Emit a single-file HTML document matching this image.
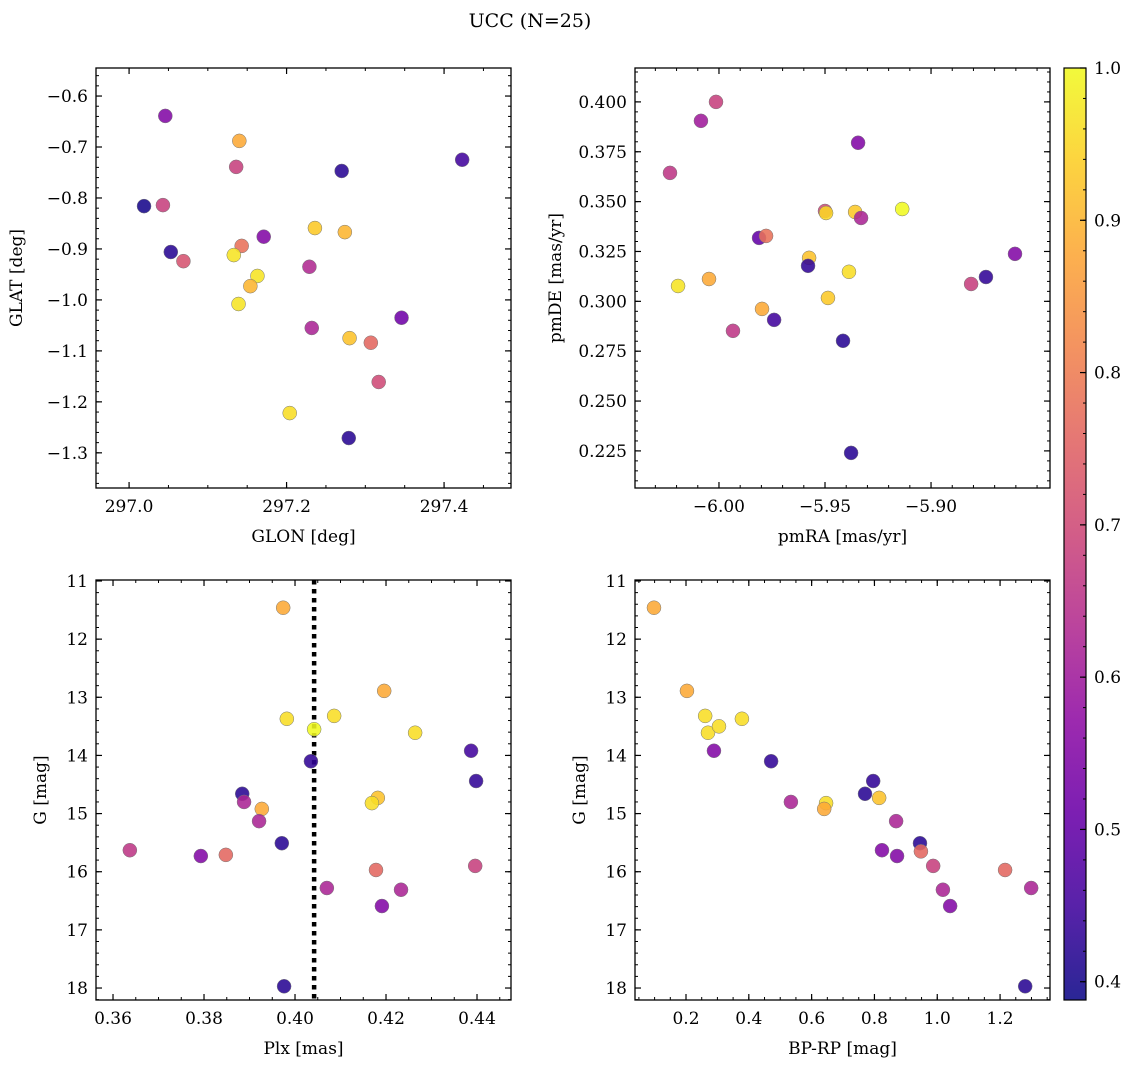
<!DOCTYPE html>
<html><head><meta charset="utf-8"><style>
body{margin:0;background:#fff}
svg text{font-family:"DejaVu Serif","Liberation Serif",serif;fill:#000}
</style></head><body>
<svg id="chart" width="1136" height="1067" viewBox="0 0 1136 1067" xmlns="http://www.w3.org/2000/svg">
<text x="530" y="27" font-size="19" text-anchor="middle">UCC (N=25)</text>
</svg>
<script>
// Panel 1: GLON / GLAT
const p1x=[297.046,297.140,297.423,297.136,297.270,297.019,297.043,297.236,297.274,297.171,297.143,297.053,297.069,297.133,297.229,297.163,297.154,297.139,297.346,297.232,297.280,297.307,297.317,297.204,297.279];
const p1y=[-0.639,-0.688,-0.725,-0.739,-0.747,-0.816,-0.814,-0.859,-0.867,-0.876,-0.894,-0.906,-0.924,-0.912,-0.935,-0.953,-0.973,-1.008,-1.035,-1.055,-1.075,-1.084,-1.161,-1.222,-1.271];
const p1c=[0.55,0.88,0.45,0.68,0.42,0.40,0.68,0.93,0.90,0.55,0.78,0.42,0.72,0.97,0.63,0.97,0.90,0.97,0.52,0.62,0.92,0.76,0.70,0.96,0.42];
// Panel 2: pmRA / pmDE
const p2x=[-6.0014,-6.0085,-5.9344,-6.0231,-5.9500,-5.9495,-5.9358,-5.9330,-5.9136,-5.9811,-5.9778,-5.9575,-5.9580,-5.9387,-5.8604,-6.0047,-6.0193,-5.8741,-5.8811,-5.9486,-5.9797,-5.9740,-5.9934,-5.9415,-5.9377];
const p2y=[0.4000,0.3905,0.3795,0.3644,0.3453,0.3443,0.3448,0.3418,0.3463,0.3318,0.3328,0.3218,0.3178,0.3148,0.3238,0.3112,0.3077,0.3122,0.3087,0.3017,0.2962,0.2907,0.2852,0.2802,0.2240];
const p2c=[0.68,0.60,0.55,0.66,0.70,0.95,0.93,0.62,1.00,0.50,0.78,0.92,0.43,0.96,0.55,0.88,0.97,0.43,0.68,0.93,0.88,0.45,0.66,0.42,0.42];
// Panel 3: Plx / G
const p3x=[0.3974,0.4196,0.4086,0.3982,0.4042,0.4264,0.4387,0.4035,0.4398,0.3884,0.4182,0.4169,0.3888,0.3927,0.3921,0.3971,0.3637,0.3848,0.3793,0.4396,0.4178,0.4070,0.4233,0.4191,0.3976];
const p3y=[11.46,12.89,13.32,13.37,13.55,13.61,13.92,14.10,14.44,14.66,14.73,14.82,14.80,14.92,15.13,15.51,15.63,15.71,15.73,15.90,15.97,16.28,16.31,16.59,17.97];
const p3c=[0.88,0.88,0.96,0.96,1.00,0.96,0.45,0.43,0.43,0.42,0.92,0.96,0.62,0.88,0.62,0.42,0.66,0.76,0.55,0.68,0.76,0.62,0.62,0.55,0.42];
const plxLine=0.4042;
// Panel 4: BP-RP / G
const p4x=[0.098,0.203,0.261,0.270,0.305,0.378,0.289,0.471,0.796,0.770,0.815,0.646,0.640,0.534,0.869,0.945,0.948,0.824,0.872,0.987,1.216,1.299,1.018,1.041,1.280];
const p4y=[11.46,12.89,13.32,13.61,13.50,13.37,13.92,14.10,14.44,14.66,14.73,14.82,14.92,14.80,15.13,15.51,15.65,15.63,15.73,15.90,15.97,16.28,16.31,16.59,17.97];
const p4c=[0.88,0.88,0.96,0.96,0.96,0.96,0.55,0.43,0.43,0.42,0.92,0.96,0.88,0.62,0.62,0.42,0.76,0.55,0.55,0.68,0.76,0.62,0.62,0.55,0.42];
// tick labels
const t1x=[297.0,297.2,297.4], t1y=[-0.6,-0.7,-0.8,-0.9,-1.0,-1.1,-1.2,-1.3];
const t2x=[-6.00,-5.95,-5.90], t2y=[0.400,0.375,0.350,0.325,0.300,0.275,0.250,0.225];
const t3x=[0.36,0.38,0.40,0.42,0.44], tGy=[11,12,13,14,15,16,17,18];
const t4x=[0.2,0.4,0.6,0.8,1.0,1.2];
const tcb=[0.4,0.5,0.6,0.7,0.8,0.9,1.0];

const NS="http://www.w3.org/2000/svg";
const svg=document.getElementById('chart');
const FS=17;
function mk(tag,at,parent){const e=document.createElementNS(NS,tag);for(const k in at)e.setAttribute(k,at[k]);(parent||svg).appendChild(e);return e;}
const stops=['#0d0887','#41049d','#6a00a8','#8f0da4','#b12a90','#cc4778','#e16462','#f2844b','#fca636','#fcce25','#f0f921'];
function hx(h){return [1,3,5].map(i=>parseInt(h.substr(i,2),16));}
const VMIN=0.388,VMAX=1.0;
function plasma(v){let t=(v-VMIN)/(VMAX-VMIN);t=Math.max(0,Math.min(1,t));const f=t*10,i=Math.min(9,Math.floor(f)),r=f-i;const a=hx(stops[i]),b=hx(stops[i+1]);return 'rgb('+a.map((c,k)=>Math.round(c+(b[k]-c)*r)).join(',')+')';}
function fmt(v,d){return (v<0?'\u2212':'')+Math.abs(v).toFixed(d);}

function panel(o){
  const sx=v=>o.L+(v-o.x0)/(o.x1-o.x0)*(o.R-o.L);
  const sy=v=>o.T+(v-o.y0)/(o.y1-o.y0)*(o.B-o.T);
  const g=mk('g',{});
  
  
  const lo=Math.min(o.x0,o.x1),hi=Math.max(o.x0,o.x1);
  for(let v=Math.ceil(lo/o.mx-1e-6)*o.mx;v<=hi+1e-9;v+=o.mx){const x=sx(v);mk('line',{x1:x,x2:x,y1:o.B,y2:o.B-3,stroke:'#000','stroke-width':1},g);mk('line',{x1:x,x2:x,y1:o.T,y2:o.T+3,stroke:'#000','stroke-width':1},g);}
  const ylo=Math.min(o.y0,o.y1),yhi=Math.max(o.y0,o.y1);
  for(let v=Math.ceil(ylo/o.my-1e-6)*o.my;v<=yhi+1e-9;v+=o.my){const y=sy(v);mk('line',{x1:o.L,x2:o.L+3,y1:y,y2:y,stroke:'#000','stroke-width':1},g);mk('line',{x1:o.R,x2:o.R-3,y1:y,y2:y,stroke:'#000','stroke-width':1},g);}
  o.tx.forEach(v=>{const x=sx(v);mk('line',{x1:x,x2:x,y1:o.B,y2:o.B-6,stroke:'#000','stroke-width':1.2},g);mk('line',{x1:x,x2:x,y1:o.T,y2:o.T+6,stroke:'#000','stroke-width':1.2},g);
    const t=mk('text',{x:x,y:o.B+24,'font-size':FS,'text-anchor':'middle'},g);t.textContent=fmt(v,o.dx);});
  o.ty.forEach(v=>{const y=sy(v);mk('line',{x1:o.L,x2:o.L+6,y1:y,y2:y,stroke:'#000','stroke-width':1.2},g);mk('line',{x1:o.R,x2:o.R-6,y1:y,y2:y,stroke:'#000','stroke-width':1.2},g);
    const t=mk('text',{x:o.L-8,y:y+6,'font-size':FS,'text-anchor':'end'},g);t.textContent=fmt(v,o.dy);});
  if(o.vline!==undefined){const l=mk('line',{x1:sx(o.vline),x2:sx(o.vline),y1:o.T,y2:o.B,stroke:'#000','stroke-width':4.5,'stroke-dasharray':'4.5,4.5'},g);}
  o.xs.forEach((v,i)=>{const c=mk('circle',{cx:sx(v),cy:sy(o.ys[i]),r:7,fill:plasma(o.cs[i]),'fill-opacity':0.88,stroke:'#777','stroke-width':0.5},g);
    
    });
  mk('rect',{x:o.L,y:o.T,width:o.R-o.L,height:o.B-o.T,fill:'none',stroke:'#000','stroke-width':1.3},g);
  const xl=mk('text',{x:(o.L+o.R)/2,y:o.B+54,'font-size':FS,'text-anchor':'middle'},g);xl.textContent=o.xlab;
  
  
  const yx=o.L-o.yoff,yc=(o.T+o.B)/2;
  const yl=mk('text',{x:yx,y:yc,'font-size':FS,'text-anchor':'middle',transform:'rotate(-90 '+yx+' '+yc+')'},g);yl.textContent=o.ylab;
  
  
}
panel({name:'glon-glat-panel',L:96,R:511,T:68,B:488,x0:296.958,x1:297.485,y0:-0.545,y1:-1.369,mx:0.05,my:0.02,tx:t1x,ty:t1y,dx:1,dy:1,xs:p1x,ys:p1y,cs:p1c,xlab:'GLON [deg]',ylab:'GLAT [deg]',yoff:74});
panel({name:'pm-panel',L:635,R:1050,T:68,B:488,x0:-6.0396,x1:-5.8439,y0:0.417,y1:0.2064,mx:0.01,my:0.005,tx:t2x,ty:t2y,dx:2,dy:3,xs:p2x,ys:p2y,cs:p2c,xlab:'pmRA [mas/yr]',ylab:'pmDE [mas/yr]',yoff:74});
panel({name:'plx-g-panel',L:96,R:511,T:580,B:1000,x0:0.35626,x1:0.44747,y0:10.983,y1:18.206,mx:0.005,my:0.2,tx:t3x,ty:tGy,dx:2,dy:0,xs:p3x,ys:p3y,cs:p3c,xlab:'Plx [mas]',ylab:'G [mag]',yoff:50,vline:plxLine});
panel({name:'cmd-panel',L:635,R:1050,T:580,B:1000,x0:0.0376,x1:1.359,y0:10.983,y1:18.206,mx:0.05,my:0.2,tx:t4x,ty:tGy,dx:1,dy:0,xs:p4x,ys:p4y,cs:p4c,xlab:'BP-RP [mag]',ylab:'G [mag]',yoff:50});

const cb=mk('g',{});


const CL=1064,CR=1086,CT=68,CB=1000;
const grad=mk('linearGradient',{id:'pg',x1:0,y1:1,x2:0,y2:0},mk('defs',{},cb));
stops.forEach((s,i)=>mk('stop',{offset:i/10,'stop-color':s,'stop-opacity':0.88},grad));
mk('rect',{x:CL,y:CT,width:CR-CL,height:CB-CT,fill:'url(#pg)',stroke:'#000','stroke-width':1.2},cb);
const cy=v=>CB-(v-VMIN)/(VMAX-VMIN)*(CB-CT);
for(let v=0.4;v<=1.0001;v+=0.02){mk('line',{x1:CR,x2:CR-3,y1:cy(v),y2:cy(v),stroke:'#000'},cb);}
tcb.forEach(v=>{mk('line',{x1:CR,x2:CR-6,y1:cy(v),y2:cy(v),stroke:'#000','stroke-width':1.2},cb);
  const t=mk('text',{x:CR+8,y:cy(v)+6,'font-size':FS},cb);t.textContent=v.toFixed(1);
  
  });
</script>
</body></html>
